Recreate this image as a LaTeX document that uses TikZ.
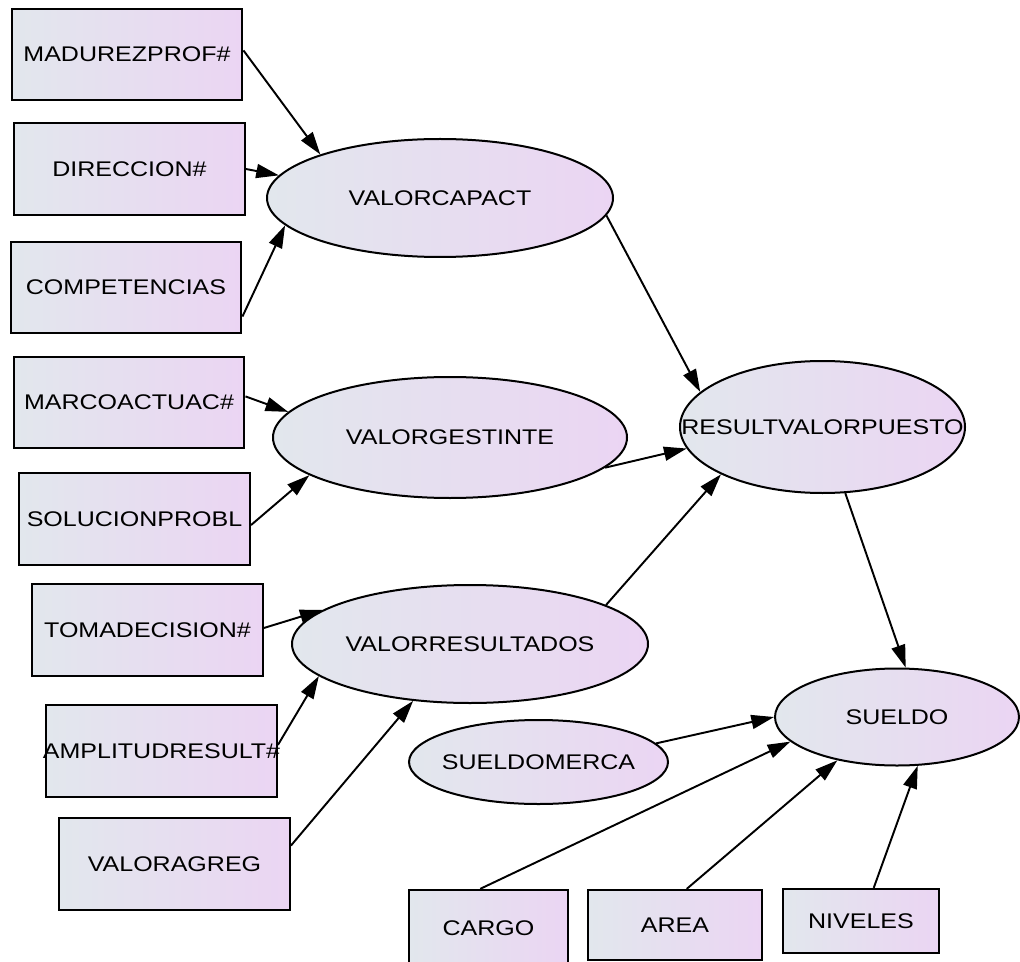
\documentclass[tikz,border=0pt]{standalone}
\usepackage{fontspec}
\setmainfont{Liberation Sans}[FakeStretch=1.18]
\usetikzlibrary{arrows.meta,shapes.geometric}
\definecolor{gleft}{RGB}{226,231,237}
\definecolor{gright}{RGB}{235,213,243}
\tikzset{>={Triangle[length=17pt,width=10.5pt]}}
\tikzset{obs/.style={draw,line width=1.7pt,rectangle,left color=gleft,right color=gright,inner sep=0pt,minimum width=173pt,minimum height=68.5pt,font=\fontsize{15.9}{18}\selectfont}}
\tikzset{lat/.style={draw,line width=1.5pt,ellipse,left color=gleft,right color=gright,inner sep=0pt,font=\fontsize{15.9}{18}\selectfont}}
\newcommand{\vname}[1]{\makebox[0pt]{#1}}

\begin{document}
\begin{tikzpicture}[x=0.75pt,y=-0.75pt,line width=1.45pt]
      \useasboundingbox (0,0) rectangle (1020,962);
      \node[obs] (madurez) at (127,54.5) {\vname{MADUREZPROF\#}};
      \node[obs] (direccion) at (129.5,169) {\vname{DIRECCION\#}};
      \node[obs] (competencias) at (126,287.5) {\vname{COMPETENCIAS}};
      \node[obs] (marco) at (129,402.5) {\vname{MARCOACTUAC\#}};
      \node[obs] (solucion) at (134.5,519) {\vname{SOLUCIONPROBL}};
      \node[obs] (tomadecision) at (147.5,630) {\vname{TOMADECISION\#}};
      \node[obs] (amplitud) at (161.5,751) {\vname{AMPLITUDRESULT\#}};
      \node[obs] (valoragreg) at (174.5,864) {\vname{VALORAGREG}};
      \node[obs,minimum width=119pt,minimum height=57pt] (cargo) at (488.5,928) {\vname{CARGO}};
      \node[obs,minimum width=130.5pt,minimum height=52.5pt] (area) at (675,925) {\vname{AREA}};
      \node[obs,minimum width=117pt,minimum height=48pt] (niveles) at (861,921) {\vname{NIVELES}};
      \node[lat,minimum width=259.5pt,minimum height=88.5pt] (vcap) at (440,198) {\vname{VALORCAPACT}};
      \node[lat,minimum width=265.5pt,minimum height=90.75pt] (vgest) at (450,437.5) {\vname{VALORGESTINTE}};
      \node[lat,minimum width=267pt,minimum height=88.5pt] (vres) at (470,644) {\vname{VALORRESULTADOS}};
      \node[lat,minimum width=213.75pt,minimum height=99pt] (rvp) at (822.5,427) {\vname{RESULTVALORPUESTO}};
      \node[lat,minimum width=183pt,minimum height=72.75pt] (sueldo) at (897,717) {\vname{SUELDO}};
      \node[lat,minimum width=194.25pt,minimum height=63pt] (smerca) at (538.5,762) {\vname{SUELDOMERCA}};
      \draw[->] (madurez.2) -- (vcap.160);
      \draw[->] (direccion.east) -- (vcap.172);
      \draw[->] (competencias.-14) -- (vcap.190);
      \draw[->] (marco.3) -- (vgest.171);
      \draw[->] (solucion.-3) -- (vgest.195);
      \draw[->] (tomadecision.1) -- (vres.167);
      \draw[->] (amplitud.3) -- (vres.192);
      \draw[->] (valoragreg.9) -- (vres.225);
      \draw[->] (vcap.354) -- (rvp.164);
      \draw[->] (vgest.349) -- (rvp.189.5);
      \draw[->] (vres.16.7) -- (rvp.205.6);
      \draw[->] (rvp.289) -- (sueldo.80);
      \draw[->] (smerca.9) -- (sueldo.180);
      \draw[->] (cargo.102.6) -- (sueldo.193);
      \draw[->] (area.72.5) -- (sueldo.216);
      \draw[->] (niveles.69.4) -- (sueldo.293);
    \end{tikzpicture}
\end{document}
